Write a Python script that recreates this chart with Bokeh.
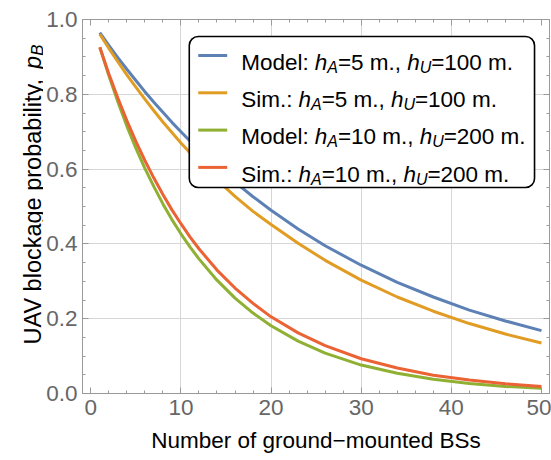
import math
from bokeh.plotting import figure
from bokeh.layouts import row
from bokeh.core.properties import value
from bokeh.models import (Range1d, LinearAxis, SingleIntervalTicker, FixedTicker,
                          BoxAnnotation, Label, NumeralTickFormatter, CustomJSTickFormatter)
from bokeh.embed import file_html
from bokeh.resources import INLINE

# ---------------- data ----------------
n_bs = [1, 2, 3, 4, 5, 6, 7, 8, 9, 10, 11, 12, 14, 16, 18, 20, 23, 26, 30, 34, 38, 42, 46, 50]
model_5_100 = [0.965, 0.931, 0.898, 0.867, 0.837, 0.807, 0.779, 0.752, 0.725, 0.700, 0.675,
               0.652, 0.607, 0.565, 0.526, 0.490, 0.440, 0.395, 0.343, 0.297, 0.258, 0.223,
               0.194, 0.168]
sim_5_100 = [0.961, 0.923, 0.887, 0.852, 0.819, 0.787, 0.756, 0.726, 0.698, 0.670, 0.644,
             0.619, 0.571, 0.527, 0.487, 0.452, 0.402, 0.356, 0.303, 0.258, 0.220, 0.187,
             0.159, 0.135]
model_10_200 = [0.926, 0.850, 0.780, 0.715, 0.656, 0.602, 0.553, 0.507, 0.465, 0.427, 0.392,
                0.360, 0.303, 0.255, 0.215, 0.181, 0.140, 0.108, 0.076, 0.054, 0.038, 0.027,
                0.019, 0.014]
sim_10_200 = [0.926, 0.855, 0.790, 0.730, 0.674, 0.623, 0.576, 0.532, 0.491, 0.454, 0.419,
              0.387, 0.330, 0.282, 0.241, 0.205, 0.162, 0.128, 0.093, 0.068, 0.049, 0.036,
              0.026, 0.019]

series_names = ["Model", "Sim.", "Model", "Sim."]
series_hA = ["5", "5", "10", "10"]
series_hU = ["100", "100", "200", "200"]
series_vals = [model_5_100, sim_5_100, model_10_200, sim_10_200]
colors = ["#5E81B5", "#E19C24", "#8FB032", "#EB6235"]

x_ticks_grid = [10, 20, 30, 40]
y_ticks_grid = [0.2, 0.4, 0.6, 0.8]
x_label = "Number of ground\u2212mounted BSs"
y_label_main = "UAV blockage probability, "

# ---------------- layout ----------------
FONT = "Liberation Sans"
CW, CH = 551, 460
SIDE_W = 43                                            # strip holding the y title
FRAME_L, FRAME_R, FRAME_T, FRAME_B = 81, 549, 19, 393  # page pixels
X0, X1, Y0, Y1 = -0.92, 50.89, 0.0, 1.0

def dx(px):
    return X0 + (px - FRAME_L) * (X1 - X0) / (FRAME_R - FRAME_L)

def dy(py):
    return Y0 + (FRAME_B - py) * (Y1 - Y0) / (FRAME_B - FRAME_T)

W = {'M': 833, 'o': 556, 'd': 556, 'e': 556, 'l': 222, ':': 278, ' ': 278, 'S': 667,
     'i': 222, 'm': 833, '.': 278, 'h': 556, 'A': 667, 'U': 722, '=': 584, '5': 556,
     '1': 556, '0': 556, '2': 556, ',': 278, 'p': 556, 'B': 667, 'V': 667, 'b': 556,
     'c': 500, 'k': 500, 'a': 556, 'g': 556, 'r': 333, 't': 278, 'y': 500}

def tw(s, size):
    return sum(W.get(c, 556) for c in s) * size / 1000.0

FS = 22.5
FSUB = 16
SUB_DROP = 5
FS_Y = 23.5
FSUB_Y = 17
GRAY = "#9a9a9a"

# ---------------- main figure ----------------
p = figure(width=CW - SIDE_W, height=CH, output_backend="svg", toolbar_location=None,
           x_range=Range1d(X0, X1), y_range=Range1d(Y0, Y1),
           min_border_left=FRAME_L - SIDE_W, min_border_right=CW - FRAME_R,
           min_border_top=FRAME_T, min_border_bottom=CH - FRAME_B,
           x_axis_label=x_label)
p.background_fill_color = "white"
p.border_fill_color = "white"
p.outline_line_color = GRAY
p.outline_line_width = 1

bottom_ax = p.below[0]
left_ax = p.left[0]
bottom_ax.ticker = SingleIntervalTicker(interval=10, num_minor_ticks=5)
left_ax.ticker = SingleIntervalTicker(interval=0.2, num_minor_ticks=4)
left_ax.formatter = NumeralTickFormatter(format="0.0")

top_ax = LinearAxis(ticker=SingleIntervalTicker(interval=10, num_minor_ticks=5),
                    formatter=CustomJSTickFormatter(code="return ''"))
right_ax = LinearAxis(ticker=SingleIntervalTicker(interval=0.2, num_minor_ticks=4),
                      formatter=CustomJSTickFormatter(code="return ''"))
p.add_layout(top_ax, "above")
p.add_layout(right_ax, "right")

for ax in [bottom_ax, left_ax, top_ax, right_ax]:
    ax.axis_line_color = GRAY
    ax.major_tick_line_color = GRAY
    ax.minor_tick_line_color = GRAY
    ax.major_tick_in = 6
    ax.major_tick_out = 0
    ax.minor_tick_in = 3
    ax.minor_tick_out = 0
    ax.major_label_text_font = FONT
    ax.major_label_text_font_size = f"{FS}px"
    ax.major_label_text_color = "#666666"
for ax in [top_ax, right_ax]:
    ax.major_label_standoff = 0
bottom_ax.major_label_standoff = 6
left_ax.major_label_standoff = 5
bottom_ax.axis_label_text_font = FONT
bottom_ax.axis_label_text_font_size = f"{FS}px"
bottom_ax.axis_label_text_font_style = "normal"
bottom_ax.axis_label_text_color = "black"
bottom_ax.axis_label_standoff = 10

p.xgrid.ticker = FixedTicker(ticks=x_ticks_grid)
p.ygrid.ticker = FixedTicker(ticks=y_ticks_grid)
p.grid.grid_line_color = "#d6d6d6"
p.grid.grid_line_width = 1

for vals, c in zip(series_vals, colors):
    p.line(n_bs, vals, line_color=c, line_width=3)

# ---------------- legend (manual, for italics/subscripts) ----------------
LEG_L, LEG_R, LEG_T, LEG_B = 188, 534, 36, 187
box = BoxAnnotation(left=dx(LEG_L), right=dx(LEG_R), top=dy(LEG_T), bottom=dy(LEG_B),
                    fill_color="white", fill_alpha=1, line_color="black", line_alpha=1,
                    line_width=1.6, border_radius=9)
p.add_layout(box)

row_y = [55, 92.3, 129.6, 166.9]
for i in range(4):
    ly = row_y[i]
    seg = p.segment(x0=[dx(197)], y0=[dy(ly)], x1=[dx(226)], y1=[dy(ly)],
                    line_color=colors[i], line_width=3)
    seg.level = "overlay"
    base = ly + 6.7
    pieces = [(series_names[i] + ": ", "normal", FS, 0),
              ("h", "italic", FS, 0),
              ("A", "italic", FSUB, SUB_DROP),
              ("=" + series_hA[i] + " m., ", "normal", FS, 0),
              ("h", "italic", FS, 0),
              ("U", "italic", FSUB, SUB_DROP),
              ("=" + series_hU[i] + " m.", "normal", FS, 0)]
    cx = 240
    for txt, style, size, drop in pieces:
        lab = Label(x=dx(cx), y=dy(base + drop), text=txt, text_font=FONT,
                    text_font_size=f"{size}px", text_font_style=style,
                    text_color="black", text_align="left", text_baseline="alphabetic",
                    level="overlay")
        p.add_layout(lab)
        cx += tw(txt, size)

# ---------------- y axis title strip (rotated rich text) ----------------
side = figure(frame_width=SIDE_W, frame_height=CH, output_backend="svg",
              toolbar_location=None, title=None,
              x_range=Range1d(0, SIDE_W), y_range=Range1d(0, CH),
              x_axis_location=None, y_axis_location=None,
              min_border_left=0, min_border_right=0, min_border_top=0, min_border_bottom=0)
side.outline_line_color = None
side.grid.visible = False
side.background_fill_color = "white"
side.border_fill_color = "white"

YT_BASE_X = 32
ypos = 325
for txt, style, size, drop in [(y_label_main, "normal", FS_Y, 0), ("p", "italic", FS_Y, 0),
                               ("B", "italic", FSUB_Y, SUB_DROP)]:
    side.text(x=[YT_BASE_X + drop], y=[CH - ypos], text=[txt], angle=math.pi / 2,
              text_font=value(FONT), text_font_size=value(f"{size}px"),
              text_font_style=value(style), text_color="black",
              text_align="left", text_baseline="alphabetic")
    ypos -= tw(txt, size)

layout = row(side, p)
open("out.html", "w").write(file_html(layout, INLINE))
